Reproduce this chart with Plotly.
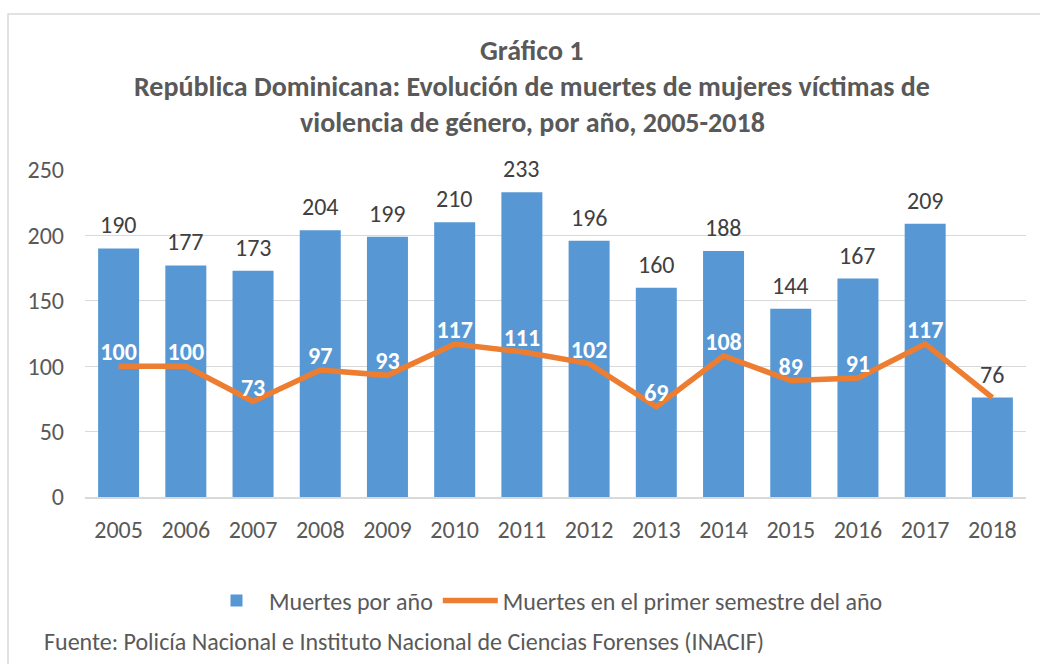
import plotly.graph_objects as go

years = ["2005", "2006", "2007", "2008", "2009", "2010", "2011", "2012", "2013", "2014", "2015", "2016", "2017", "2018"]
muertes_anio = [190, 177, 173, 204, 199, 210, 233, 196, 160, 188, 144, 167, 209, 76]
muertes_semestre = [100, 100, 73, 97, 93, 117, 111, 102, 69, 108, 89, 91, 117, 76]
sem_labels = [str(v) for v in muertes_semestre[:-1]] + [""]

FONT = "Carlito, Lato, sans-serif"
W, H = 1040, 664
ML, MR, MT, MB = 85, 14, 170, 167
PW, PH = W - ML - MR, H - MT - MB

def px(x):
    return (x - ML) / PW

def py(y):
    return (H - MB - y) / PH

fig = go.Figure()
fig.add_trace(go.Bar(
    x=years, y=muertes_anio, name="Muertes por año",
    marker=dict(color="#5798d4", line=dict(width=0)),
))
fig.add_trace(go.Scatter(
    x=years, y=muertes_semestre, name="Muertes en el primer semestre del año",
    mode="lines+text", line=dict(color="#ed7d31", width=5.5),
    text=sem_labels, textposition="top center",
    textfont=dict(family=FONT, size=24, color="white", weight="bold"),
    cliponaxis=False,
))

annotations = []
for i, v in enumerate(muertes_anio):
    annotations.append(dict(x=i, y=v, xref="x", yref="y", text=str(v), showarrow=False,
                            xanchor="center", yanchor="bottom", yshift=7,
                            font=dict(family=FONT, size=24, color="#404040")))

titles = [
    ("<b>Gráfico 1</b>", 50),
    ("<b>República Dominicana: Evolución de muertes de mujeres víctimas de</b>", 87),
    ("<b>violencia de género, por año, 2005-2018</b>", 122),
]
for t, yy in titles:
    annotations.append(dict(text=t, x=px(532), y=py(yy), xref="paper", yref="paper", showarrow=False,
                            xanchor="center", yanchor="middle",
                            font=dict(family=FONT, size=28, color="#595959")))
annotations.append(dict(
    text="Fuente: Policía Nacional e Instituto Nacional de Ciencias Forenses (INACIF)",
    xref="paper", yref="paper", x=px(42), y=py(641), xanchor="left", yanchor="middle",
    showarrow=False, font=dict(family=FONT, size=24, color="#595959")))

fig.update_layout(
    width=W, height=H,
    margin=dict(l=ML, r=MR, t=MT, b=MB),
    paper_bgcolor="white", plot_bgcolor="white",
    font=dict(family=FONT, color="#595959"),
    bargap=0.39,
    showlegend=True,
    legend=dict(orientation="h", x=px(546), y=py(601), xanchor="center", yanchor="middle",
                font=dict(family=FONT, size=24, color="#595959"), itemwidth=55,
                tracegroupgap=0),
    annotations=annotations,
    shapes=[dict(type="rect", xref="paper", yref="paper",
                 x0=px(8), x1=px(1048), y0=py(700), y1=py(14),
                 line=dict(color="#d9d9d9", width=1.5), fillcolor="rgba(0,0,0,0)", layer="below")],
    xaxis=dict(type="category", range=[-0.5, len(years) - 0.5], showgrid=False, showline=True,
               linecolor="#d9d9d9", linewidth=1.5,
               tickfont=dict(family=FONT, size=24, color="#595959"), ticks="", ticklabelstandoff=10),
    yaxis=dict(range=[0, 250], dtick=50, showgrid=True, gridcolor="#d9d9d9", gridwidth=1,
               zeroline=False, showline=False,
               tickfont=dict(family=FONT, size=24, color="#595959"), ticks="", ticklabelstandoff=20),
)

fig.write_html("out.html", config={"displayModeBar": False},
               post_script="document.body.style.margin='0';document.body.style.overflow='hidden';")
